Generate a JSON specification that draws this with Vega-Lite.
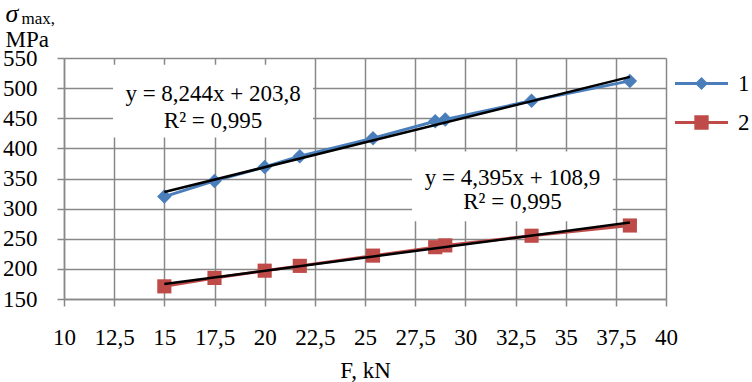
{
  "$schema": "https://vega.github.io/schema/vega-lite/v6.json",
  "width": 602,
  "height": 241,
  "autosize": {"type": "none"},
  "padding": {"left": 64, "top": 58, "right": 86, "bottom": 83},
  "background": "white",
  "datasets": {
    "main": [
      {"series": "1", "F": 15, "sigma": 320},
      {"series": "1", "F": 17.5, "sigma": 346},
      {"series": "1", "F": 20, "sigma": 369},
      {"series": "1", "F": 21.75, "sigma": 387},
      {"series": "1", "F": 25.4, "sigma": 417},
      {"series": "1", "F": 28.5, "sigma": 445},
      {"series": "1", "F": 29, "sigma": 448},
      {"series": "1", "F": 33.3, "sigma": 479},
      {"series": "1", "F": 38.2, "sigma": 512},
      {"series": "2", "F": 15, "sigma": 171},
      {"series": "2", "F": 17.5, "sigma": 185},
      {"series": "2", "F": 20, "sigma": 197},
      {"series": "2", "F": 21.75, "sigma": 205},
      {"series": "2", "F": 25.4, "sigma": 222},
      {"series": "2", "F": 28.5, "sigma": 236},
      {"series": "2", "F": 29, "sigma": 239},
      {"series": "2", "F": 33.3, "sigma": 255},
      {"series": "2", "F": 38.2, "sigma": 272}
    ],
    "trend": [
      {"series": "1", "F": 15, "sigma": 327.5},
      {"series": "1", "F": 38.2, "sigma": 518.7},
      {"series": "2", "F": 15, "sigma": 174.8},
      {"series": "2", "F": 38.2, "sigma": 276.8}
    ],
    "boxes": [
      {"x1": 12.44, "x2": 22.41, "y1": 539, "y2": 418},
      {"x1": 27.34, "x2": 37.35, "y1": 395, "y2": 279}
    ],
    "labels": [
      {"label": "y = 8,244x + 203,8", "F": 17.43, "sigma": 478},
      {"label": "R² = 0,995", "F": 17.43, "sigma": 433},
      {"label": "y = 4,395x + 108,9", "F": 32.35, "sigma": 340},
      {"label": "R² = 0,995", "F": 32.35, "sigma": 299}
    ]
  },
  "config": {
    "view": {"stroke": null},
    "font": "Liberation Serif",
    "axis": {
      "labelFont": "Liberation Serif",
      "titleFont": "Liberation Serif",
      "labelFontSize": 23,
      "titleFontSize": 23,
      "labelColor": "black",
      "titleColor": "black",
      "titleFontWeight": "normal",
      "labelFlush": false,
      "labelOverlap": false,
      "gridColor": "#888888",
      "gridWidth": 1.5,
      "gridOpacity": 1,
      "domainColor": "#888888",
      "domainWidth": 1.5,
      "tickColor": "#888888",
      "tickWidth": 1.5,
      "tickSize": 7
    },
    "legend": {
      "labelFont": "Liberation Serif",
      "labelFontSize": 23,
      "labelColor": "black"
    }
  },
  "layer": [
    {
      "data": {"name": "boxes"},
      "mark": {"type": "rect", "fill": "white"},
      "encoding": {
        "x": {"field": "x1", "type": "quantitative", "axis": null},
        "x2": {"field": "x2"},
        "y": {"field": "y1", "type": "quantitative", "axis": null},
        "y2": {"field": "y2"}
      }
    },
    {
      "data": {"name": "main"},
      "mark": {"type": "line", "strokeWidth": 3},
      "encoding": {
        "x": {
          "field": "F", "type": "quantitative",
          "scale": {"domain": [10, 40], "nice": false, "zero": false},
          "axis": {
            "values": [10, 12.5, 15, 17.5, 20, 22.5, 25, 27.5, 30, 32.5, 35, 37.5, 40],
            "labelExpr": "replace(format(datum.value, '.1~f'), '.', ',')",
            "labelPadding": 20,
            "labelBaseline": "top",
            "grid": true,
            "title": "F, kN",
            "titleY": 78,
            "titleBaseline": "alphabetic"
          }
        },
        "y": {
          "field": "sigma", "type": "quantitative",
          "scale": {"domain": [150, 550], "nice": false, "zero": false},
          "axis": {
            "values": [150, 200, 250, 300, 350, 400, 450, 500, 550],
            "labelPadding": 20,
            "grid": true,
            "title": "MPa",
            "titleAngle": 0,
            "titleAlign": "left",
            "titleBaseline": "alphabetic",
            "titleX": -59,
            "titleY": -12
          }
        },
        "color": {
          "field": "series", "type": "nominal",
          "scale": {"domain": ["1", "2"], "range": ["#4A7EBB", "#BE4B48"]},
          "legend": {
            "orient": "none",
            "legendX": 611,
            "legendY": -1,
            "title": null,
            "padding": 0,
            "symbolSize": 2809,
            "symbolStrokeWidth": 0,
            "labelOffset": 10,
            "rowPadding": 0,
            "encode": {
              "symbols": {
                "update": {
                  "shape": {"signal": "datum.value === '1' ? 'M-1,-0.057H1V0.057H-1Z M0,-0.245L0.245,0L0,0.245L-0.245,0Z' : 'M-1,-0.057H1V0.057H-1Z M-0.27,-0.27H0.27V0.27H-0.27Z'"},
                  "fill": {"signal": "datum.value === '1' ? '#4A7EBB' : '#BE4B48'"},
                  "fillOpacity": {"value": 1},
                  "strokeWidth": {"value": 0}
                }
              }
            }
          }
        }
      }
    },
    {
      "data": {"name": "main"},
      "transform": [{"filter": "datum.series === '1'"}],
      "mark": {"type": "point", "shape": "diamond", "filled": true, "opacity": 1, "size": 210, "color": "#4A7EBB"},
      "encoding": {
        "x": {"field": "F", "type": "quantitative", "axis": null},
        "y": {"field": "sigma", "type": "quantitative", "axis": null}
      }
    },
    {
      "data": {"name": "main"},
      "transform": [{"filter": "datum.series === '2'"}],
      "mark": {"type": "point", "shape": "square", "filled": true, "opacity": 1, "size": 200, "color": "#BE4B48"},
      "encoding": {
        "x": {"field": "F", "type": "quantitative", "axis": null},
        "y": {"field": "sigma", "type": "quantitative", "axis": null}
      }
    },
    {
      "data": {"name": "trend"},
      "mark": {"type": "line", "color": "black", "strokeWidth": 2.5},
      "encoding": {
        "x": {"field": "F", "type": "quantitative", "axis": null},
        "y": {"field": "sigma", "type": "quantitative", "axis": null},
        "detail": {"field": "series", "type": "nominal"}
      }
    },
    {
      "data": {"name": "labels"},
      "mark": {"type": "text", "font": "Liberation Serif", "fontSize": 23, "align": "center", "baseline": "alphabetic", "color": "black"},
      "encoding": {
        "x": {"field": "F", "type": "quantitative", "axis": null},
        "y": {"field": "sigma", "type": "quantitative", "axis": null},
        "text": {"field": "label"}
      }
    },
    {
      "data": {"name": "trend"},
      "mark": {"type": "point", "opacity": 0},
      "encoding": {
        "x": {
          "field": "F", "type": "quantitative",
          "axis": {
            "orient": "top", "labels": false, "ticks": false, "domain": false, "grid": false,
            "title": "max,", "titleFontSize": 17, "titleAngle": 0, "titleAlign": "left",
            "titleBaseline": "alphabetic", "titleX": -43, "titleY": -35
          }
        },
        "y": {
          "field": "sigma", "type": "quantitative",
          "axis": {
            "orient": "left", "labels": false, "ticks": false, "domain": false, "grid": false,
            "title": "σ", "titleFontSize": 26, "titleFontStyle": "italic", "titleAngle": 0,
            "titleAlign": "left", "titleBaseline": "alphabetic", "titleX": -59, "titleY": -37
          }
        }
      }
    }
  ],
  "resolve": {"axis": {"x": "independent", "y": "independent"}}
}
